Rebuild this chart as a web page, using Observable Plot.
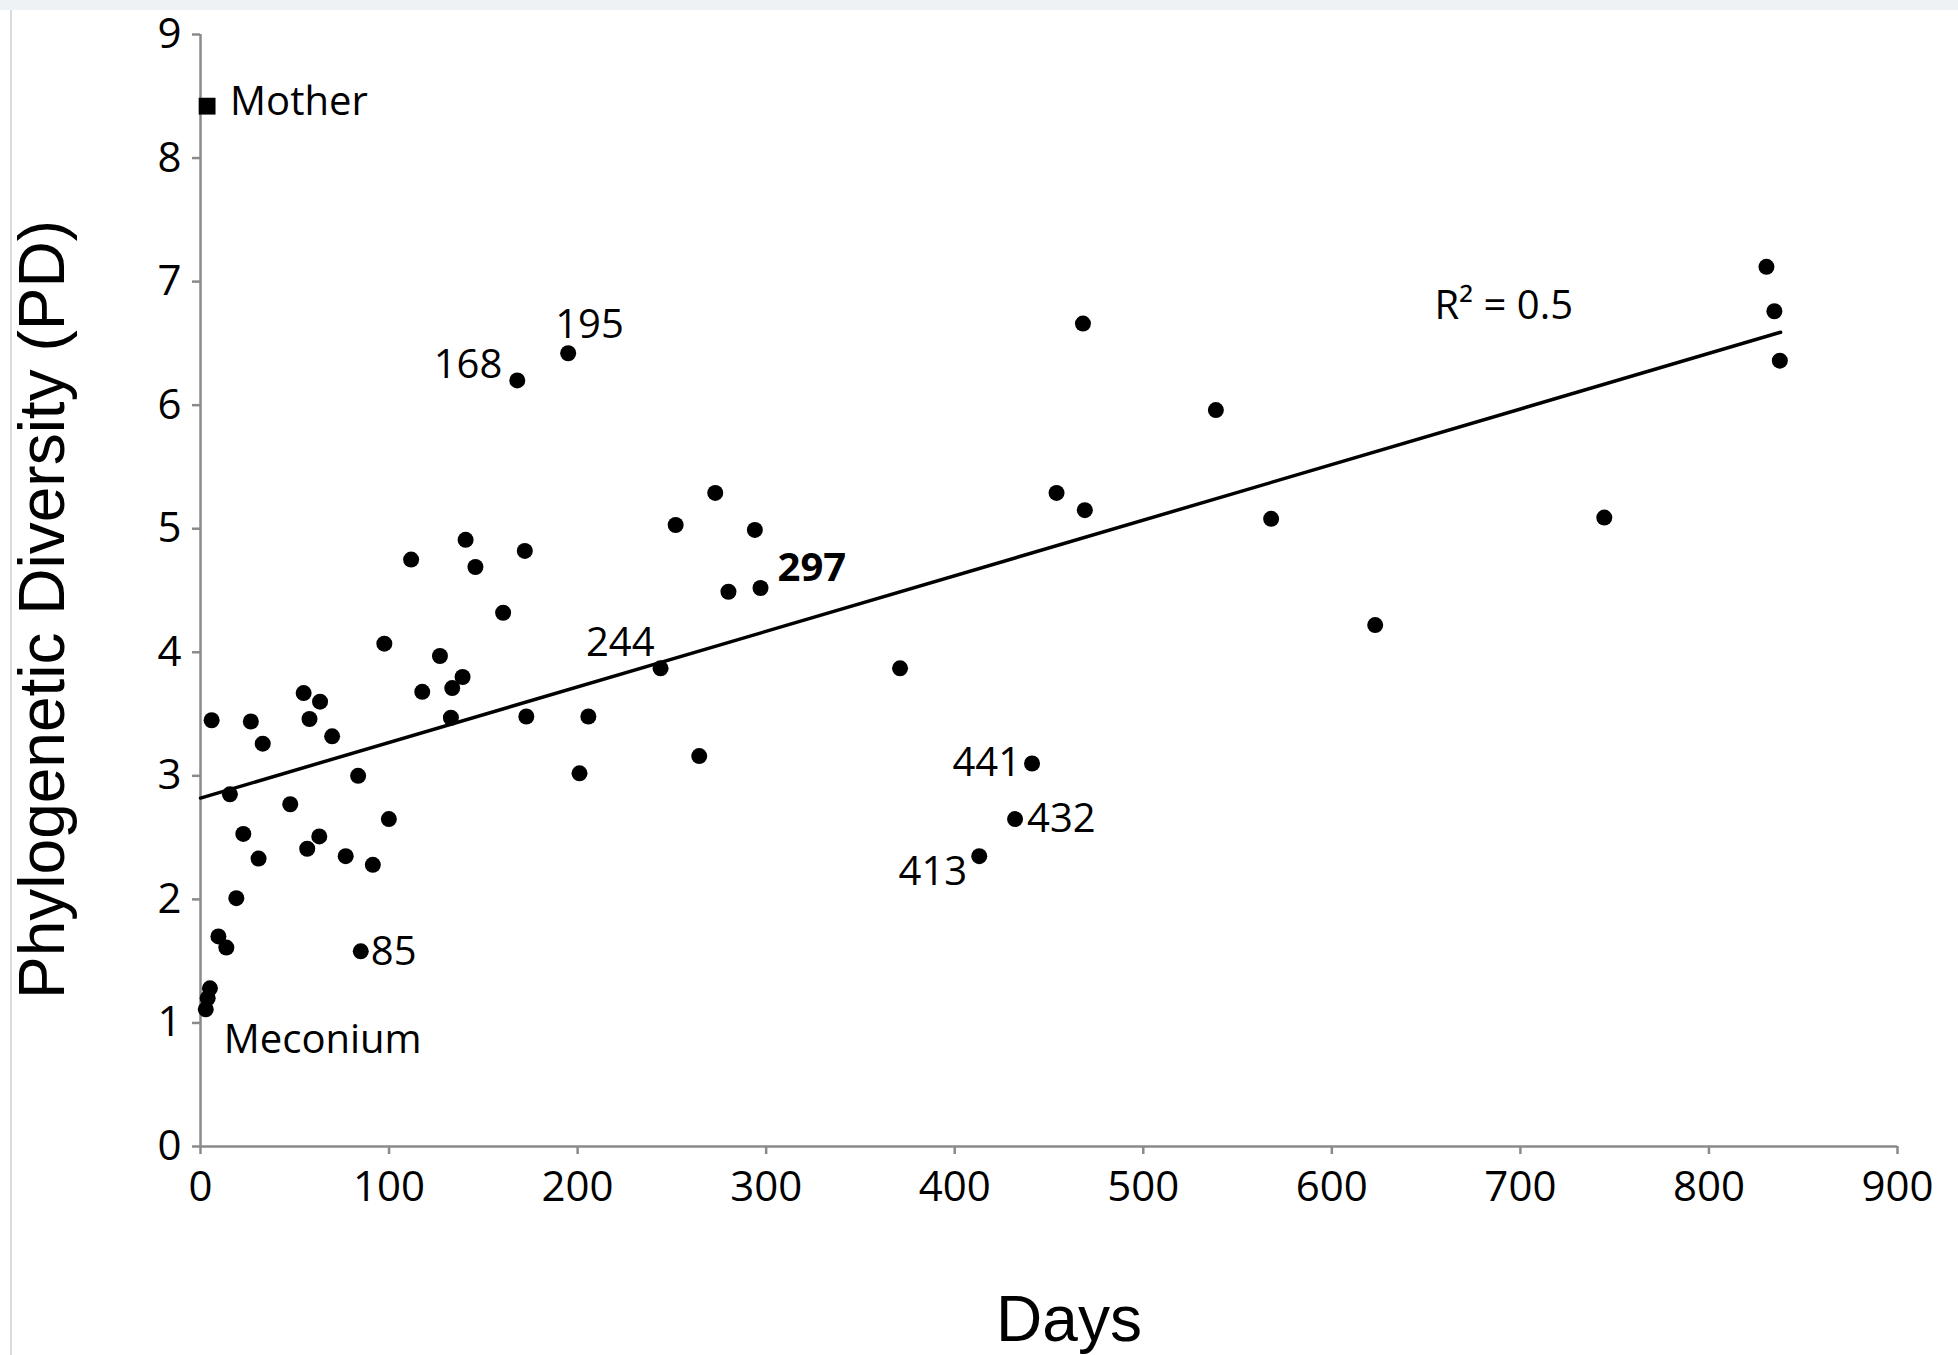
<!DOCTYPE html>
<html><head><meta charset="utf-8">
<script src="https://cdn.jsdelivr.net/npm/d3@7"></script>
<script src="https://cdn.jsdelivr.net/npm/@observablehq/plot@0.6"></script>
<style>
html,body{margin:0;padding:0;background:#fff;overflow:hidden;}
#chart{position:absolute;left:0;top:0;}
#topband{position:absolute;left:0;top:0;width:1958px;height:10px;background:#eef2f4;}
#leftline{position:absolute;left:10px;top:10px;width:2px;height:1345px;background:#d9dcde;}
</style></head><body>
<div id="chart"></div><div id="topband"></div><div id="leftline"></div>
<script>
// Infant samples: age in days and phylogenetic diversity
const days = [2.8, 3.8, 5.0, 5.9, 9.5, 13.7, 15.6, 19, 22.7, 26.7, 30.8, 33, 47.6, 54.7, 56.6, 57.8, 63, 63.4, 69.8, 77, 83.6, 85, 91.4, 97.5, 99.9, 111.7, 117.6, 127, 132.8, 133.5, 139, 140.6, 145.8, 160.5, 168, 172, 172.8, 195, 201, 205.7, 244, 252, 264.5, 273, 280, 294, 297, 371, 413, 432, 441, 454, 468, 469, 538.5, 567.8, 623, 744.5, 830.5, 834.7, 837.6];
const pd   = [1.11, 1.20, 1.28, 3.45, 1.70, 1.61, 2.85, 2.01, 2.53, 3.44, 2.33, 3.26, 2.77, 3.67, 2.41, 3.46, 2.51, 3.60, 3.32, 2.35, 3.00, 1.58, 2.28, 4.07, 2.65, 4.75, 3.68, 3.97, 3.47, 3.71, 3.80, 4.91, 4.69, 4.32, 6.20, 4.82, 3.48, 6.42, 3.02, 3.48, 3.87, 5.03, 3.16, 5.29, 4.49, 4.99, 4.52, 3.87, 2.35, 2.65, 3.10, 5.29, 6.66, 5.15, 5.96, 5.08, 4.22, 5.09, 7.12, 6.76, 6.36];
// Mother sample
const motherDay = [3.5];
const motherPD = [8.42];
// Linear trend line end points
const trendDays = [0, 838];
const trendPD = [2.82, 6.59];
// Ticks
const xTicks = [0, 100, 200, 300, 400, 500, 600, 700, 800, 900];
const yTicks = [0, 1, 2, 3, 4, 5, 6, 7, 8, 9];
// Labelled samples (days)
const labelDays = [168, 195, 244, 297, 413, 432, 441, 85];
const annotationText = ["Mother", "Meconium", "R\u00b2 = 0.5"];
const xTitle = "Days";
const yTitle = "Phylogenetic Diversity (PD)";

const points = days.map((d, i) => ({day: d, pd: pd[i]}));
const mother = motherDay.map((d, i) => ({day: d, pd: motherPD[i]}));
const trend = trendDays.map((d, i) => ({day: d, pd: trendPD[i]}));

const FONT = "'Open Sans', 'Noto Sans', sans-serif";
const ARIAL = "'Liberation Sans', Arial, sans-serif";
const FS = 40;
const TFS = 42;
const AX = "#8a8a8a";

const labelStyle = {
  168: {textAnchor: "end", dx: -15, dy: -15},
  195: {textAnchor: "start", dx: -13, dy: -28},
  244: {textAnchor: "end", dx: -6, dy: -25},
  297: {textAnchor: "start", dx: 17, dy: -20, fontWeight: "bold"},
  413: {textAnchor: "end", dx: -12, dy: 16},
  432: {textAnchor: "start", dx: 12, dy: 0},
  441: {textAnchor: "end", dx: -11, dy: 0},
  85: {textAnchor: "start", dx: 10, dy: 1}
};

const labelMarks = labelDays.map(ld => {
  const p = points.find(q => q.day === ld);
  const s = labelStyle[ld];
  return Plot.text([p], {x: "day", y: "pd", text: () => String(ld), lineAnchor: "middle",
    fontSize: FS, fontFamily: FONT, fill: "black", fontWeight: s.fontWeight || "normal",
    textAnchor: s.textAnchor, dx: s.dx, dy: s.dy});
});

const chart = Plot.plot({
  width: 1958,
  height: 1355,
  marginLeft: 200,
  marginRight: 61,
  marginTop: 34,
  marginBottom: 209,
  style: {background: "transparent", fontFamily: FONT},
  x: {domain: [0, 900], axis: null},
  y: {domain: [0, 9], axis: null},
  marks: [
    Plot.ruleY([0], {stroke: AX, strokeWidth: 2.5}),
    Plot.ruleX([0], {stroke: AX, strokeWidth: 2.5}),
    Plot.axisX(xTicks, {tickSize: 8, tickPadding: 17, stroke: AX, strokeWidth: 2.5, fill: "black",
      fontSize: TFS, fontFamily: FONT, label: null, tickFormat: d => String(d)}),
    Plot.axisY(yTicks, {tickSize: 8, tickPadding: 11, stroke: AX, strokeWidth: 2.5, fill: "black",
      fontSize: TFS, fontFamily: FONT, label: null, tickFormat: d => String(d)}),
    Plot.line(trend, {x: "day", y: "pd", stroke: "black", strokeWidth: 3.5}),
    Plot.dot(points, {x: "day", y: "pd", r: 8, fill: "black"}),
    Plot.dot(mother, {x: "day", y: "pd", symbol: "square", r: 9.5, fill: "black"}),
    Plot.text(mother, {x: "day", y: "pd", text: () => annotationText[0], textAnchor: "start", lineAnchor: "middle",
      dx: 23, dy: -4, fontSize: FS, fontFamily: FONT, fill: "black"}),
    Plot.text([points[0]], {x: "day", y: "pd", text: () => annotationText[1], textAnchor: "start", lineAnchor: "middle",
      dx: 18, dy: 31, fontSize: FS, fontFamily: FONT, fill: "black"}),
    Plot.text([trend[1]], {x: "day", y: "pd", text: () => annotationText[2], textAnchor: "start", lineAnchor: "middle",
      dx: -346, dy: -26, fontSize: FS, fontFamily: FONT, fill: "black"}),
    ...labelMarks,
    Plot.text([yTitle], {frameAnchor: "left", text: d => d, rotate: -90, lineAnchor: "middle", textAnchor: "middle",
      dx: -157, dy: 19, fontSize: 64, fontFamily: ARIAL, fill: "black"}),
    Plot.text([xTitle], {frameAnchor: "bottom", text: d => d, lineAnchor: "middle", textAnchor: "middle",
      dx: 20, dy: 174, fontSize: 64, fontFamily: ARIAL, fill: "black"})
  ]
});
document.getElementById("chart").appendChild(chart);
</script>
</body></html>
